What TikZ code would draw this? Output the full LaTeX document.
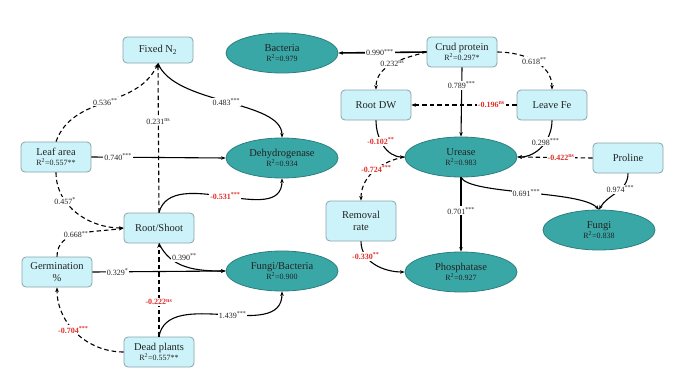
\documentclass[tikz,border=0pt]{standalone}
\usepackage{fontspec}
\setmainfont{Liberation Serif}
\usetikzlibrary{arrows.meta,shapes.geometric}
\definecolor{boxfill}{HTML}{CCF3F9}
\definecolor{boxdraw}{HTML}{8AA4AA}
\definecolor{ellfill}{HTML}{3AA7A7}
\definecolor{elldraw}{HTML}{2C7E80}
\definecolor{myred}{HTML}{E0302A}
\definecolor{txt}{HTML}{222222}
\tikzset{
  varbox/.style={draw=boxdraw, fill=boxfill, rounded corners=4pt, minimum width=70pt, minimum height=30pt, align=center, inner sep=1pt, text=txt, font=\fontsize{10.5}{11}\selectfont, line width=0.8pt},
  ellbox/.style={ellipse, draw=elldraw, fill=ellfill, minimum width=112pt, minimum height=40pt, align=center, inner sep=0pt, text=txt, font=\fontsize{10.5}{11}\selectfont, line width=0.8pt},
  pth/.style={line width=1.1pt, -{Stealth[length=4.5pt,width=3.5pt]}},
  dpth/.style={pth, dash pattern=on 4.5pt off 3pt},
  lbl/.style={fill=white, inner sep=1pt, text=txt, font=\fontsize{8}{9}\selectfont},
  rlbl/.style={lbl, text=myred, font=\fontsize{8}{9}\selectfont\bfseries},
}
\newcommand{\rsq}[1]{\\[-1pt]{\fontsize{8}{9}\selectfont R\textsuperscript{2}=#1}}
\newcommand{\sig}[1]{\textsuperscript{#1}}
\begin{document}
\begin{tikzpicture}[x=1pt,y=-1pt]
\useasboundingbox[fill=white] (0,0) rectangle (680,383);
% boxes
\node[varbox, minimum height=26pt] (fn) at (158,50) {Fixed N\textsubscript{2}};
\node[varbox] (la) at (56,157) {Leaf area\rsq{0.557**}};
\node[varbox] (rs) at (159,228) {Root/Shoot};
\node[varbox] (ge) at (57,272) {Germination\\[1pt]\%};
\node[varbox] (dp) at (159,352) {Dead plants\rsq{0.557**}};
\node[varbox] (cp) at (462,52) {Crud protein\rsq{0.297*}};
\node[varbox] (rd) at (376,105) {Root DW};
\node[varbox] (lf) at (552,105) {Leave Fe};
\node[varbox] (pr) at (628,158) {Proline};
\node[varbox, minimum height=40pt] (rr) at (361,221) {Removal\\[1pt]rate};
% ellipses
\node[ellbox] (ba) at (282,53) {Bacteria\rsq{0.979}};
\node[ellbox] (de) at (282,158) {Dehydrogenase\rsq{0.934}};
\node[ellbox] (fb) at (282,271) {Fungi/Bacteria\rsq{0.900}};
\node[ellbox] (ur) at (461,157) {Urease\rsq{0.983}};
\node[ellbox] (ph) at (461,272) {Phosphatase\rsq{0.927}};
\node[ellbox] (fu) at (599,230) {Fungi\rsq{0.838}};
% left part
\draw[dpth] (la.north) to[out=70,in=-115] node[lbl,pos=0.5] {0.536\sig{**}} (fn.south);
\draw[pth] (fn.south) .. controls (175,105) and (282,100) .. node[lbl,pos=0.5] {0.483\sig{***}} (de.north);
\draw[dpth] (rs.north) -- node[lbl,pos=0.61] {0.231\sig{ns}} (fn.south);
\draw[pth] (rs.north) to[out=75,in=-90] node[rlbl,pos=0.5] {-0.531\sig{***}} (de.south);
\draw[pth] (la.east) -- node[lbl,pos=0.2] {0.740\sig{***}} (de.west);
\draw[dpth] (la.south) to[out=-90,in=180] node[lbl,pos=0.32] {0.457\sig{*}} (rs.west);
\draw[dpth] (ge.north) to[out=90,in=190] node[lbl,pos=0.45] {0.668\sig{**}} (rs.west);
\draw[pth] (ge.east) -- node[lbl,pos=0.19] {0.329\sig{*}} (fb.west);
\draw[pth] (rs.south) to[out=-65,in=180] node[lbl,pos=0.35,xshift=8pt,yshift=5pt] {0.390\sig{**}} (fb.west);
\draw[dpth] (dp.west) to[out=180,in=-90] node[rlbl,pos=0.55] {-0.704\sig{***}} (ge.south);
\draw[dpth] (dp.north) -- node[rlbl,pos=0.37] {-0.222\sig{ns}} (rs.south);
\draw[pth] (dp.north) to[out=80,in=-90] node[lbl,pos=0.55] {1.439\sig{***}} (fb.south);
% right part
\draw[pth, line width=1.6pt] (cp.west) -- node[lbl,pos=0.53] {0.990\sig{***}} (ba.east);
\draw[dpth] (cp.west) to[out=195,in=90] node[lbl,pos=0.5] {0.232\sig{ns}} (rd.north);
\draw[pth] (cp.south) -- node[lbl,pos=0.26] {0.789\sig{***}} (ur.north);
\draw[dpth] (cp.east) to[out=0,in=90] node[lbl,pos=0.5] {0.618\sig{**}} (lf.north);
\draw[dpth] (lf.west) -- node[rlbl,pos=0.24] {-0.196\sig{ns}} (rd.east);
\draw[pth] (lf.south) to[out=-90,in=0] node[lbl,pos=0.4] {0.298\sig{***}} (ur.east);
\draw[pth] (rd.south) to[out=-90,in=180] node[rlbl,pos=0.4] {-0.102\sig{**}} (ur.west);
\draw[dpth] (pr.west) -- node[rlbl,pos=0.42] {-0.422\sig{ns}} (ur.east);
\draw[dpth] (ur.west) to[out=190,in=90] node[rlbl,pos=0.45] {-0.724\sig{***}} (rr.north);
\draw[pth] (ur.south) -- node[lbl,pos=0.45] {0.701\sig{***}} (ph.north);
\draw[pth] (ur.south) .. controls (470,195) and (580,190) .. node[lbl,pos=0.5] {0.691\sig{***}} (fu.north);
\draw[pth] (pr.south) to[out=-90,in=60] node[lbl,pos=0.4] {0.974\sig{***}} (fu.north);
\draw[pth] (rr.south) to[out=-90,in=180] node[rlbl,pos=0.28] {-0.330\sig{**}} (ph.west);
\end{tikzpicture}
\end{document}
